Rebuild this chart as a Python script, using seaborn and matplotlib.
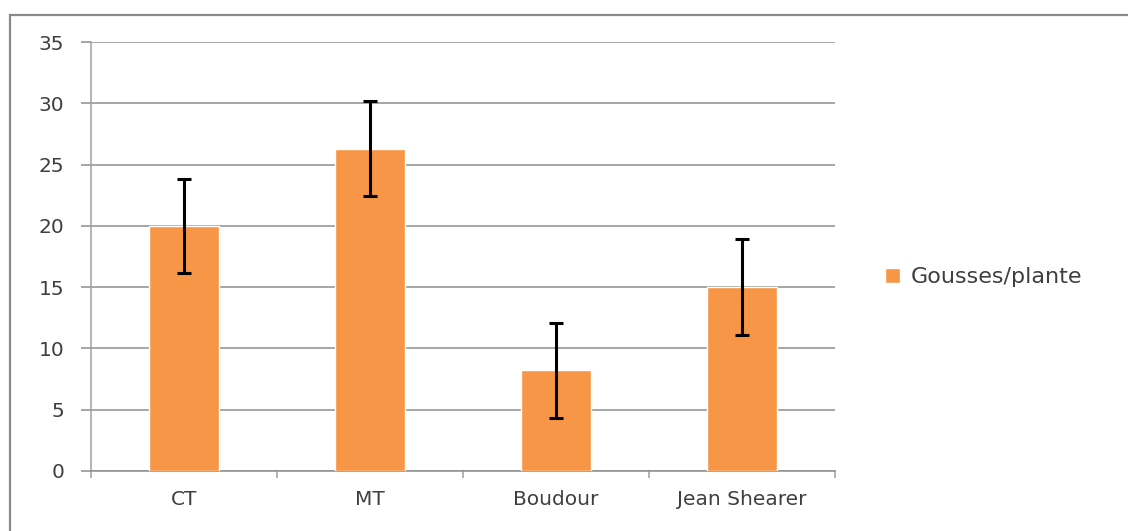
import matplotlib
matplotlib.use("Agg")
import matplotlib.pyplot as plt
from matplotlib.patches import Rectangle
from matplotlib.ticker import FixedLocator, MultipleLocator
import seaborn as sns
import pandas as pd

# Pods per plant for each variety, with standard deviation
varieties = ["CT", "MT", "Boudour", "Jean Shearer"]
pods_per_plant = [20.0, 26.3, 8.2, 15.0]
pods_sd = [3.85, 3.85, 3.9, 3.9]
series_label = "Gousses/plante"

ORANGE = "#F79646"
GRID = "#8E8E8E"
AXIS = "#A0A0A0"
TEXT = "#3F3F3F"

sns.set_theme(style="white")
plt.rcParams["font.family"] = ["DejaVu Sans"]

df = pd.DataFrame({"variety": varieties, "pods": pods_per_plant})

fig = plt.figure(figsize=(11.28, 5.31), dpi=100)
ax = fig.add_axes([91 / 1128, 1 - 471 / 531, (835 - 91) / 1128, (471 - 42) / 531])

sns.barplot(data=df, x="variety", y="pods", color=ORANGE, saturation=1,
            width=0.377, errorbar=None, label=series_label, ax=ax, zorder=3)
ax.errorbar(range(len(varieties)), pods_per_plant, yerr=pods_sd, fmt="none",
            ecolor="black", elinewidth=2.2, capsize=5, capthick=2.2, zorder=4)

ax.set_xlim(-0.5, len(varieties) - 0.5)
ax.set_ylim(0, 35)
ax.yaxis.set_major_locator(MultipleLocator(5))
ax.grid(axis="y", color=GRID, linewidth=1.1, zorder=0)
ax.set_axisbelow(True)

for side in ("top", "right"):
    ax.spines[side].set_visible(False)
ax.spines["left"].set_color(AXIS)
ax.spines["bottom"].set_color(GRID)
for side in ("left", "bottom"):
    ax.spines[side].set_linewidth(1.1)

ax.set_xlabel("")
ax.set_ylabel("")
ax.tick_params(axis="y", direction="out", length=7.2, width=1.1, color=GRID,
               pad=12, labelsize=14.5, labelcolor=TEXT, left=True)
ax.xaxis.set_minor_locator(FixedLocator([i - 0.5 for i in range(len(varieties) + 1)]))
ax.tick_params(axis="x", which="minor", direction="out", length=5, width=1.1,
               color=AXIS, bottom=True)
ax.tick_params(axis="x", which="major", length=0, pad=14, labelsize=14.5,
               labelcolor=TEXT)

leg = ax.legend(loc="center left", bbox_to_anchor=(1.04, 0.452), frameon=False,
                fontsize=16, handlelength=0.7, handleheight=0.7,
                handletextpad=0.45, labelcolor=TEXT)

# Chart frame
fig.patches.append(Rectangle((10 / 1128, -0.05), 1.2, 1 - 15 / 531 + 0.05,
                             transform=fig.transFigure, fill=False,
                             edgecolor="#8A8A8A", linewidth=1.6))

fig.savefig("out.png", dpi=100)
